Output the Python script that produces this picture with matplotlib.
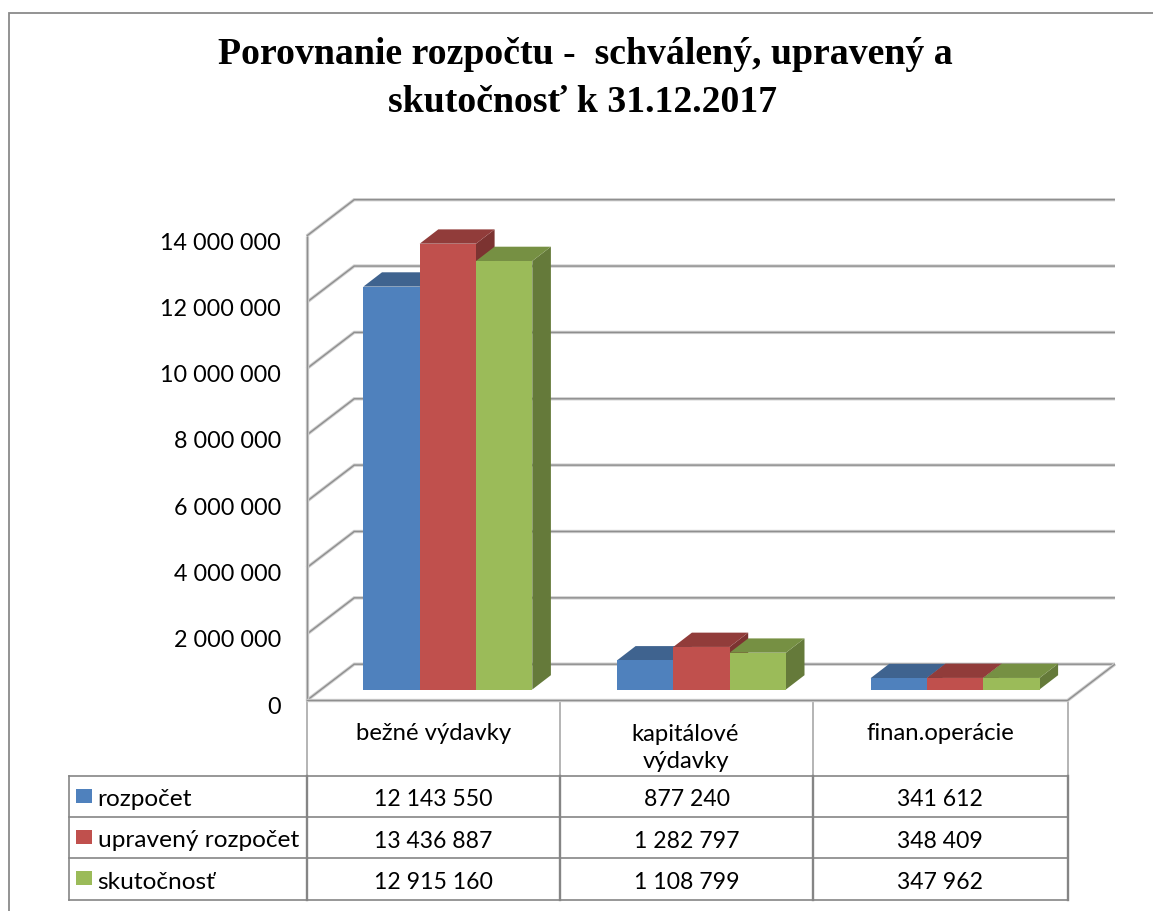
import numpy as np
import matplotlib
matplotlib.use("Agg")
import matplotlib.pyplot as plt

categories = ["bežné výdavky", "kapitálové\nvýdavky", "finan.operácie"]
series_names = ["rozpočet", "upravený rozpočet", "skutočnosť"]
rozpocet = [12143550, 877240, 341612]
upraveny = [13436887, 1282797, 348409]
skutocnost = [12915160, 1108799, 347962]
y_ticks = [0, 2000000, 4000000, 6000000, 8000000, 10000000, 12000000, 14000000]
title_lines = ["Porovnanie rozpočtu -  schválený, upravený a", "skutočnosť k 31.12.2017"]

FRONT = ["#4f81bd", "#c0504d", "#9bbb59"]
TOP = ["#3f638f", "#913c3a", "#769043"]
SIDE = ["#365779", "#7c3331", "#657a3a"]
GRID = "#8f8f8f"
HALO = "#cfcfcf"

W, H = 1153, 911
fig = plt.figure(figsize=(W / 100, H / 100), dpi=100, facecolor="white")

# full-figure pixel overlay
px = fig.add_axes([0, 0, 1, 1])
px.set_xlim(0, W); px.set_ylim(H, 0); px.axis("off")

# plot axes: front plane of the 3D box
x0, x1, y0, y1 = 306.7, 1067.5, 700.5, 236.0
ax = fig.add_axes([x0 / W, 1 - y0 / H, (x1 - x0) / W, (y0 - y1) / H])
ax.set_xlim(0, 3); ax.set_ylim(0, 14000000); ax.axis("off")
sx = (x1 - x0) / 3
sy = (y0 - y1) / 14000000
DX, DY = 47.5 / sx, 36.3 / sy          # depth of the box, in data units
bdx, bdy = 18.6 / sx, 14.3 / sy        # depth of a bar
ox, oy = 14.3 / sx, 11.0 / sy          # bar front plane offset
bw = 56.3 / sx
gap0 = 56.7 / sx - ox

def line(xs, ys):
    ax.plot(xs, ys, clip_on=False, color=HALO, lw=2.4, solid_capstyle="butt", solid_joinstyle="miter")
    ax.plot(xs, ys, clip_on=False, color=GRID, lw=1.0, solid_capstyle="butt", solid_joinstyle="miter")

# walls and gridlines
for v in y_ticks:
    line([0, DX, 3 + DX], [v, v + DY, v + DY])
line([0, 0], [0, 14000000])
line([0, 3, 3 + DX], [0, 0, DY])

# bars
for s, vals in enumerate([rozpocet, upraveny, skutocnost]):
    for c, v in enumerate(vals):
        l = c + gap0 + ox + s * bw
        r = l + bw
        b, t = oy, oy + v
        z = 3 + (2 * c + s) * .01
        ax.fill([r, r + bdx, r + bdx, r], [b, b + bdy, t + bdy, t], color=SIDE[s], lw=0, clip_on=False, zorder=z)
        ax.fill([l, r, r + bdx, l + bdx], [t, t, t + bdy, t + bdy], color=TOP[s], lw=0, clip_on=False, zorder=z)
        ax.fill([l, r, r, l], [b, b, t, t], color=FRONT[s], lw=0, clip_on=False, zorder=z)

# value axis labels
FONT = "Lato"
lab = fig.add_axes([x0 / W, 1 - 705 / H, (x1 - x0) / W, (705 - 241) / H])
lab.set_ylim(0, 14000000); lab.patch.set_alpha(0)
for sp in lab.spines.values():
    sp.set_visible(False)
lab.set_xticks([])
lab.set_yticks(y_ticks)
lab.set_yticklabels([f"{v:,}".replace(",", " ") for v in y_ticks], fontname=FONT, fontsize=16.8, color="black")
lab.tick_params(axis="y", length=0, pad=25.5 * 0.72)

# frame: left and top edges only
px.plot([8.5, 8.5, W], [H, 12.5, 12.5], color="#8a8a8a", lw=1.3, solid_joinstyle="miter")

# title
px.text(585, 55, title_lines[0], ha="center", va="center", fontname="Liberation Serif",
        fontweight="bold", fontsize=27.2, color="black")
px.text(582.5, 103, title_lines[1], ha="center", va="center", fontname="Liberation Serif",
        fontweight="bold", fontsize=27.2, color="black")

# table
vx = [306.7, 560, 813, 1067.5]
rows = [776, 817, 858.3, 900]
tl = 68.5
for x in vx:
    px.plot([x, x], [701, 776], color="#a0a0a0", lw=1.1)
    px.plot([x, x], [776, 900], color="#858585", lw=1.7)
px.plot([tl, tl], [776, 900], color="#858585", lw=1.2)
for y in rows:
    px.plot([tl, vx[-1]], [y, y], color="#858585", lw=1.2)

cx = [(vx[i] + vx[i + 1]) / 2 for i in range(3)]
px.text(cx[0], 733, categories[0], ha="center", va="center", fontname=FONT, fontsize=17.2)
px.text(cx[1] - 1, 748, categories[1], ha="center", va="center", fontname=FONT, fontsize=17.2, linespacing=1.35)
px.text(cx[2], 733, categories[2], ha="center", va="center", fontname=FONT, fontsize=17.2)

for r, (name, vals) in enumerate(zip(series_names, [rozpocet, upraveny, skutocnost])):
    ym = (rows[r] + rows[r + 1]) / 2
    px.add_patch(plt.Rectangle((76, ym - 8), 16, 14, color=FRONT[r], lw=0))
    px.text(97.5, ym + 3, name, ha="left", va="center", fontname=FONT, fontsize=17.6)
    for c, v in enumerate(vals):
        px.text(cx[c], ym + 3.5, f"{v:,}".replace(",", " "), ha="center", va="center", fontname=FONT, fontsize=16.6)

fig.savefig("out.png", dpi=100)
